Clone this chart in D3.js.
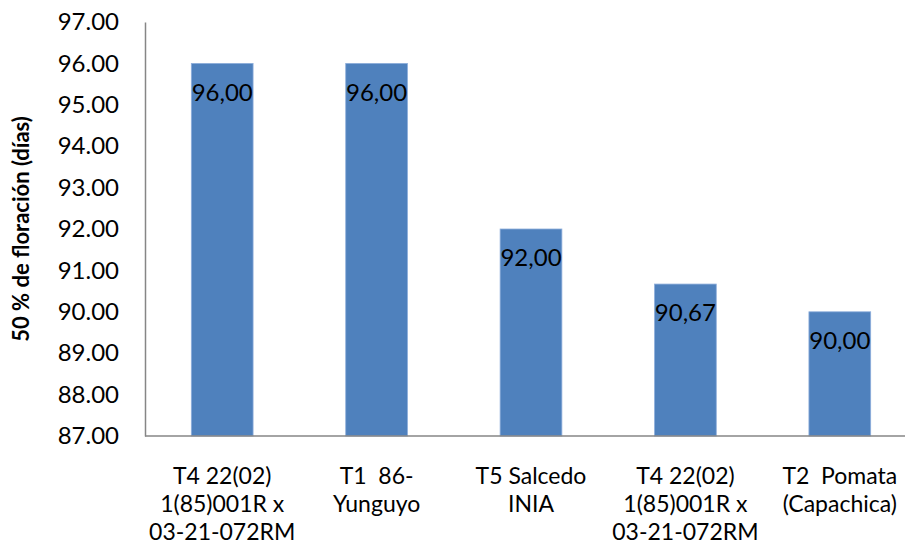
<!DOCTYPE html>
<html>
<head>
<meta charset="utf-8">
<script src="https://cdn.jsdelivr.net/npm/d3@7"></script>
<style>
  body { margin: 0; background: #fff; }
  svg text { white-space: pre; }
</style>
</head>
<body>
<div id="chart"></div>
<script>
// datos
const categorias = [
  ["T4 22(02)", "1(85)001R x", "03-21-072RM"],
  ["T1  86-", "Yunguyo"],
  ["T5 Salcedo", "INIA"],
  ["T4 22(02)", "1(85)001R x", "03-21-072RM"],
  ["T2  Pomata", "(Capachica)"]
];
const valores = [96.00, 96.00, 92.00, 90.67, 90.00];
const etiquetas = ["96,00", "96,00", "92,00", "90,67", "90,00"];
const ticksY = [87, 88, 89, 90, 91, 92, 93, 94, 95, 96, 97];

const width = 905, height = 546;
const fuente = "Lato, 'Open Sans', sans-serif";

const svg = d3.select("#chart").append("svg")
  .attr("width", width)
  .attr("height", height);

const x = d3.scaleBand()
  .domain(d3.range(valores.length))
  .range([145, 917])
  .paddingInner(0.6)
  .paddingOuter(0.3);

const y = d3.scaleLinear()
  .domain([87, 97])
  .range([436, 22]);

// eje Y
const ejeY = svg.append("g")
  .attr("transform", "translate(145,0)")
  .call(d3.axisLeft(y).tickValues(ticksY).tickFormat(d3.format(".2f")).tickSize(0).tickPadding(26));
ejeY.select(".domain").attr("stroke", "#868686").attr("stroke-width", 1.5);
ejeY.selectAll("text")
  .attr("font-family", fuente)
  .attr("font-size", 24)
  .attr("fill", "#000");

// barras
svg.append("g")
  .selectAll("rect")
  .data(valores)
  .join("rect")
  .attr("x", (d, i) => x(i))
  .attr("y", d => y(d))
  .attr("width", x.bandwidth())
  .attr("height", d => y(87) - y(d))
  .attr("fill", "#4f81bd")
  .attr("stroke", "#8eaedb")
  .attr("stroke-width", 0.8);

// etiquetas de valor
svg.append("g")
  .selectAll("text")
  .data(valores)
  .join("text")
  .attr("x", (d, i) => x(i) + x.bandwidth() / 2)
  .attr("y", d => y(d) + 29)
  .attr("dy", "0.35em")
  .attr("text-anchor", "middle")
  .attr("font-family", fuente)
  .attr("font-size", 24)
  .attr("fill", "#000")
  .text((d, i) => etiquetas[i]);

// eje X
svg.append("line")
  .attr("x1", 145).attr("x2", width)
  .attr("y1", y(87)).attr("y2", y(87))
  .attr("stroke", "#868686")
  .attr("stroke-width", 1.5);

svg.append("g")
  .selectAll("text")
  .data(categorias)
  .join("text")
  .attr("x", (d, i) => x(i) + x.bandwidth() / 2)
  .attr("y", 476)
  .attr("text-anchor", "middle")
  .attr("font-family", fuente)
  .attr("font-size", 23)
  .attr("fill", "#000")
  .each(function (d) {
    const t = d3.select(this);
    d.forEach((linea, k) => {
      t.append("tspan")
        .attr("x", t.attr("x"))
        .attr("dy", k === 0 ? "0.35em" : 28)
        .text(linea);
    });
  });

// título del eje Y
svg.append("text")
  .attr("transform", `translate(21,${y(92)}) rotate(-90)`)
  .attr("text-anchor", "middle")
  .attr("dy", "0.35em")
  .attr("font-family", fuente)
  .attr("font-size", 22)
  .attr("font-weight", "bold")
  .attr("fill", "#000")
  .text("50 % de floración (días)");
</script>
</body>
</html>
